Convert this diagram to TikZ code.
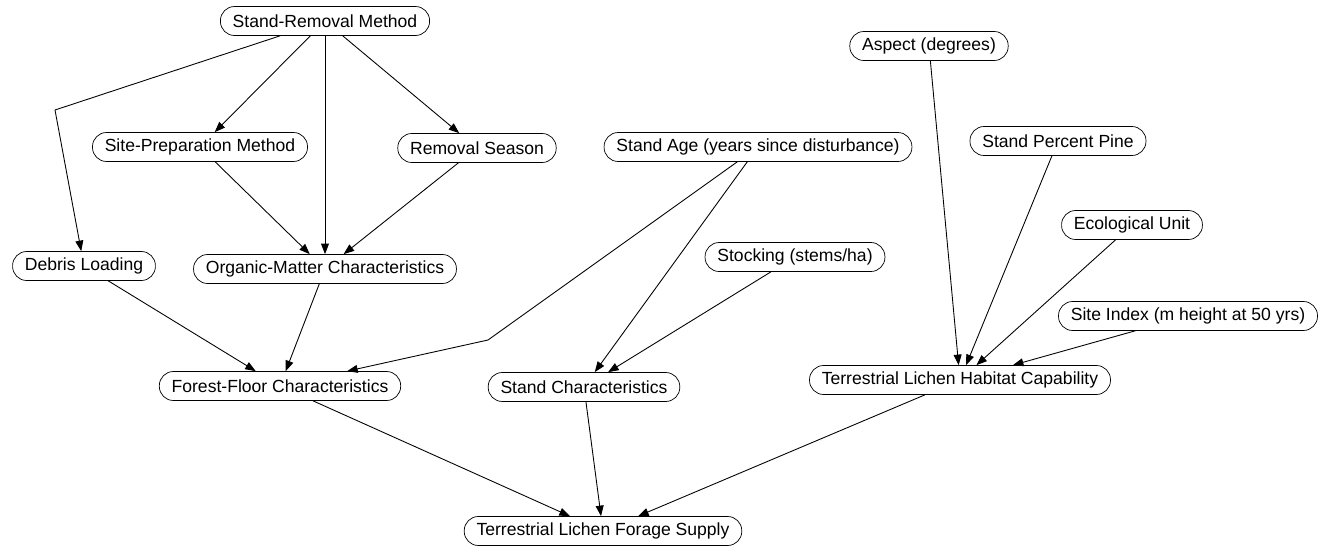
\documentclass[tikz,border=0pt]{standalone}
\usepackage{fontspec}
\setmainfont{Liberation Sans}
\usepackage{tikz}
\usetikzlibrary{arrows.meta}
\tikzset{
  var/.style={draw, rounded corners=8pt, minimum height=16.5pt, inner xsep=7pt, inner ysep=2pt,
    font=\fontsize{10}{12}\selectfont},
  lnk/.style={->, line width=0.5pt}
}
\begin{document}
\begin{tikzpicture}[line cap=round,line join=round,>={Triangle[length=6pt,width=4.5pt]},x=0.02cm,y=-0.02cm]
\useasboundingbox (0,0) rectangle (1330,548);
% top level
\node[var] (srm) at (325,21) {Stand-Removal Method};
\node[var] (asp) at (929,46) {Aspect (degrees)};
\node[var] (spm) at (200,147) {Site-Preparation Method};
\node[var] (rs) at (477,148) {Removal Season};
\node[var] (sa) at (758,147) {Stand Age (years since disturbance)};
\node[var] (spp) at (1058,141) {Stand Percent Pine};
\node[var] (eu) at (1132,225) {Ecological Unit};
\node[var] (stk) at (795,257) {Stocking (stems/ha)};
\node[var] (dl) at (84,266) {Debris Loading};
\node[var] (omc) at (325,269) {Organic-Matter Characteristics};
\node[var] (si) at (1188,316) {Site Index (m height at 50 yrs)};
% intermediate
\node[var] (tlhc) at (960,380) {Terrestrial Lichen Habitat Capability};
\node[var] (ffc) at (280,386) {Forest-Floor Characteristics};
\node[var] (sc) at (584,387) {Stand Characteristics};
% outcome
\node[var] (tlfs) at (603,531) {Terrestrial Lichen Forage Supply};
\coordinate (b1) at (55,110);
\coordinate (b2) at (488,340);
% links
\draw[lnk] (srm) -- (b1) -- (dl);
\draw[lnk] (srm) -- (spm);
\draw[lnk] (srm) -- (omc);
\draw[lnk] (srm) -- (rs);
\draw[lnk] (spm) -- (omc);
\draw[lnk] (rs) -- (omc);
\draw[lnk] (dl) -- (ffc);
\draw[lnk] (omc) -- (ffc);
\draw[lnk] (sa) -- (b2) -- (ffc);
\draw[lnk] (sa) -- (sc);
\draw[lnk] (stk) -- (sc);
\draw[lnk] (asp) -- (tlhc);
\draw[lnk] (spp) -- (tlhc);
\draw[lnk] (eu) -- (tlhc);
\draw[lnk] (si) -- (tlhc);
\draw[lnk] (ffc) -- (tlfs);
\draw[lnk] (sc) -- (tlfs);
\draw[lnk] (tlhc) -- (tlfs);
\end{tikzpicture}
\end{document}
